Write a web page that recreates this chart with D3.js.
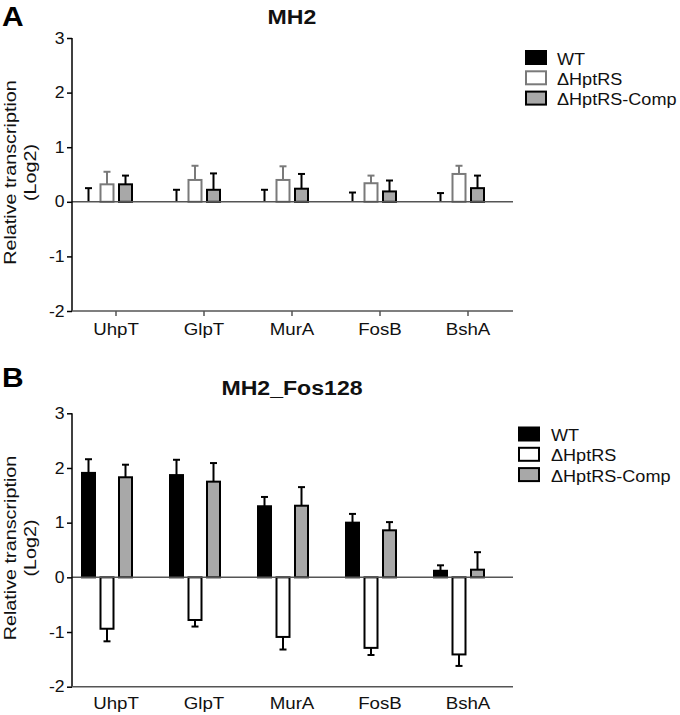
<!DOCTYPE html>
<html><head><meta charset="utf-8">
<script src="https://cdn.jsdelivr.net/npm/d3@7"></script>
<style>body{margin:0;background:#fff}svg{display:block}text{font-family:"Liberation Sans",Arial,sans-serif}</style>
</head><body>
<script>
const categories = ["UhpT","GlpT","MurA","FosB","BshA"];
const series = ["WT","\u0394HptRS","\u0394HptRS-Comp"];
const yTicks = [-2,-1,0,1,2,3];
// Panel A (MH2)
const wtA = [0,0,0,0,0];
const wtAErr = [0.25,0.22,0.22,0.17,0.16];
const delA = [0.32,0.40,0.40,0.34,0.51];
const delAErr = [0.23,0.26,0.25,0.14,0.15];
const compA = [0.32,0.22,0.24,0.19,0.25];
const compAErr = [0.16,0.30,0.27,0.20,0.23];
// Panel B (MH2_Fos128)
const wtB = [1.91,1.87,1.30,1.00,0.12];
const wtBErr = [0.25,0.28,0.17,0.16,0.10];
const delB = [-0.94,-0.78,-1.09,-1.29,-1.41];
const delBErr = [0.23,0.12,0.23,0.13,0.21];
const compB = [1.83,1.75,1.31,0.86,0.14];
const compBErr = [0.23,0.34,0.34,0.15,0.32];

const W = 680, H = 715;
const svg = d3.select("body").append("svg").attr("width", W).attr("height", H);
const SX = 1.1;

function stext(parent, x, y, str, f, sx, anchor, weight, rot) {
  return parent.append("text")
    .attr("transform", `translate(${x},${y})${rot ? " rotate(" + rot + ")" : ""} scale(${sx},1)`)
    .attr("text-anchor", anchor || "start").attr("font-size", f)
    .attr("font-weight", weight || "normal").attr("fill", "#111").text(str);
}

function panel(opt) {
  const g = svg.append("g");
  const x = d3.scaleBand().domain(categories).range([72, 512]).padding(0);
  const sub = d3.scalePoint().domain(series).range([-27.5, 9.5]);
  const y = d3.scaleLinear().domain([-2, 3]).range([opt.bottom, opt.top]);
  const bw = 13;
  const styles = [
    {fill: "#000", stroke: "#000", err: "#000"},
    {fill: "#fff", stroke: opt.delStroke, err: opt.delStroke},
    {fill: "#a8a8a8", stroke: "#000", err: "#000"}
  ];
  const data = [];
  series.forEach((s, si) => {
    categories.forEach((c, ci) => {
      data.push({s, si, c, v: opt.vals[si][ci], e: opt.errs[si][ci]});
    });
  });
  const cx = d => x(d.c) + x.bandwidth() / 2 + sub(d.s);
  // error bars
  const eg = g.append("g");
  data.forEach(d => {
    const dir = d.v < 0 ? -1 : 1;
    const y1 = y(d.v), y2 = y(d.v + dir * d.e);
    eg.append("line").attr("x1", cx(d)).attr("x2", cx(d)).attr("y1", y1).attr("y2", y2)
      .attr("stroke", styles[d.si].err).attr("stroke-width", 2);
    eg.append("line").attr("x1", cx(d) - 3.5).attr("x2", cx(d) + 3.5).attr("y1", y2).attr("y2", y2)
      .attr("stroke", styles[d.si].err).attr("stroke-width", 2);
  });
  // bars
  g.append("g").selectAll("rect").data(data.filter(d => d.v !== 0)).join("rect")
    .attr("x", d => cx(d) - bw / 2)
    .attr("width", bw)
    .attr("y", d => Math.min(y(d.v), y(0)))
    .attr("height", d => Math.abs(y(d.v) - y(0)))
    .attr("fill", d => styles[d.si].fill)
    .attr("stroke", d => styles[d.si].stroke)
    .attr("stroke-width", 2);
  // zero line
  g.append("line").attr("x1", 72).attr("x2", 513).attr("y1", y(0)).attr("y2", y(0))
    .attr("stroke", "#555").attr("stroke-width", 1.5);
  // y axis
  const ya = g.append("g").attr("transform", "translate(72,0)")
    .call(d3.axisLeft(y).tickValues(yTicks).tickSize(5).tickPadding(3).tickFormat(d => String(d)));
  ya.select(".domain").attr("stroke", "#000").attr("stroke-width", 1.5).attr("d", `M0,${opt.top}V${opt.bottom}`);
  ya.selectAll(".tick line").attr("stroke", "#000").attr("stroke-width", 1.5);
  ya.selectAll(".tick text").attr("font-size", 16).attr("fill", "#111")
    .attr("font-family", '"Liberation Sans",Arial,sans-serif')
    .attr("x", -7.5 / SX).attr("transform", `scale(${SX},1)`);
  // x axis
  const xa = g.append("g").attr("transform", `translate(0,${opt.bottom})`)
    .call(d3.axisBottom(x).tickSize(opt.xTicks ? 5 : 0).tickPadding(opt.xTicks ? 7 : 10));
  xa.select(".domain").attr("stroke", "#555").attr("stroke-width", 1.5).attr("d", `M72,0H513`);
  xa.selectAll(".tick line").attr("stroke", "#555").attr("stroke-width", 1.5);
  xa.selectAll(".tick text").attr("font-size", 17).attr("fill", "#111")
    .attr("font-family", '"Liberation Sans",Arial,sans-serif')
    .attr("transform", `scale(${SX},1)`);
  // y label
  const ymid = (opt.top + opt.bottom) / 2 - 2;
  stext(g, 16, ymid, "Relative transcription", 17, 1.165, "middle", "normal", -90);
  stext(g, 35.5, ymid, "(Log2)", 17, 1.165, "middle", "normal", -90);
  // title
  stext(g, 292, opt.titleY, opt.title, 21, 1.1, "middle", "bold");
  stext(g, 2, opt.letterY, opt.letter, 28.5, 1.05, "start", "bold").attr("fill", "#000");
  // legend
  const lg = g.append("g");
  series.forEach((s, i) => {
    const ly = opt.legY + i * opt.legStep;
    lg.append("rect").attr("x", opt.legX).attr("y", ly).attr("width", 20).attr("height", 13)
      .attr("fill", styles[i].fill).attr("stroke", styles[i].stroke).attr("stroke-width", 2);
    stext(lg, opt.legTextX, ly + 13.5, s, 16, 1.13, "start", "normal");
  });
}

panel({top: 38, bottom: 311, vals: [wtA, delA, compA], errs: [wtAErr, delAErr, compAErr],
  delStroke: "#7a7a7a", xTicks: true, title: "MH2", titleY: 24, letter: "A", letterY: 26,
  legX: 526, legY: 51, legStep: 20.3, legTextX: 557});
panel({top: 413.3, bottom: 686.7, vals: [wtB, delB, compB], errs: [wtBErr, delBErr, compBErr],
  delStroke: "#000", xTicks: false, title: "MH2_Fos128", titleY: 395, letter: "B", letterY: 387,
  legX: 519, legY: 427.5, legStep: 20.3, legTextX: 551});
</script>
</body></html>
